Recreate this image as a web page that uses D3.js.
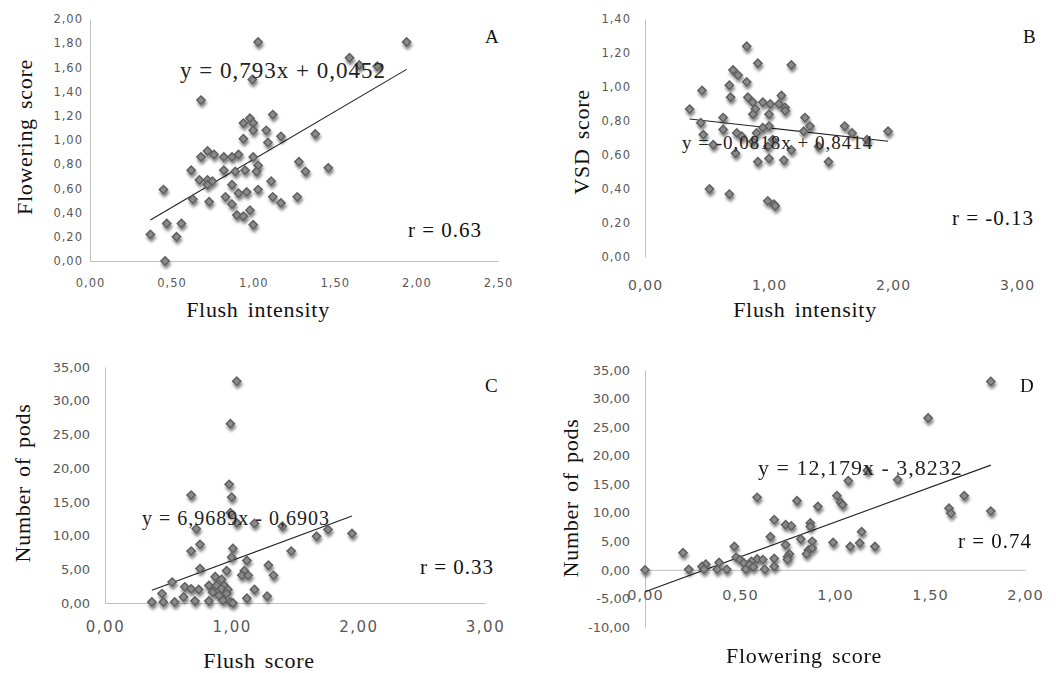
<!DOCTYPE html>
<html>
<head>
<meta charset="utf-8">
<script src="https://cdn.jsdelivr.net/npm/d3@7"></script>
<style>
  body { margin: 0; background: #fff; }
</style>
</head>
<body>
<div id="chart"></div>
<script>
// ---- data ----
// A: flush intensity vs flowering score
const pointsA = [
  [1.03,1.81],[1.94,1.81],[1.59,1.68],[1.65,1.62],[1.76,1.61],[0.995,1.50],[0.68,1.33],
  [1.12,1.21],[0.98,1.18],[0.94,1.14],[1.00,1.14],[1.08,1.08],[1.00,1.08],[1.17,1.03],
  [1.38,1.05],[0.94,1.01],[1.09,0.98],[0.72,0.91],[0.76,0.88],[0.68,0.86],[0.82,0.86],
  [0.87,0.86],[0.91,0.88],[1.00,0.86],[1.28,0.82],[1.03,0.79],[1.46,0.77],[0.62,0.75],
  [0.82,0.75],[0.89,0.74],[0.95,0.75],[1.02,0.74],[1.32,0.74],[0.67,0.67],[0.72,0.67],
  [0.75,0.66],[0.72,0.63],[1.11,0.66],[0.87,0.63],[0.45,0.59],[0.91,0.56],[0.96,0.57],
  [1.03,0.59],[0.63,0.51],[0.73,0.49],[0.83,0.53],[0.87,0.47],[1.12,0.53],[1.17,0.48],
  [1.27,0.53],[0.90,0.38],[0.94,0.37],[0.98,0.42],[1.00,0.30],[0.47,0.31],[0.56,0.31],
  [0.37,0.22],[0.53,0.20],[0.46,0.00]
];
// B: flush intensity vs VSD score
const pointsB = [
  [0.82,1.24],[0.91,1.14],[1.18,1.13],[0.71,1.10],[0.75,1.07],[0.82,1.03],[0.68,1.01],
  [0.46,0.98],[0.69,0.94],[0.83,0.94],[1.10,0.95],[0.87,0.91],[0.95,0.91],[1.01,0.90],
  [1.08,0.90],[1.13,0.88],[1.13,0.86],[0.36,0.87],[0.89,0.87],[0.87,0.84],[1.00,0.84],
  [0.63,0.82],[1.29,0.82],[0.45,0.79],[1.33,0.77],[1.61,0.77],[1.00,0.77],[0.95,0.76],
  [0.63,0.75],[1.67,0.73],[1.96,0.74],[1.28,0.74],[0.74,0.73],[0.90,0.73],[0.47,0.72],
  [0.78,0.71],[1.79,0.69],[0.55,0.66],[1.40,0.65],[0.99,0.65],[1.18,0.63],[0.73,0.61],
  [0.91,0.56],[1.00,0.58],[1.12,0.57],[1.48,0.56],[0.52,0.40],[0.68,0.37],[0.99,0.33],
  [1.04,0.31],[1.05,0.30],[0.87,0.68],[1.03,0.69]
];
// C: flush score vs number of pods
const pointsC = [
  [1.04,32.9],[0.99,26.6],[0.98,17.6],[0.68,16.0],[1.00,15.7],[0.99,13.4],[1.04,11.9],
  [1.18,11.8],[1.40,11.4],[0.72,11.0],[1.76,10.9],[1.95,10.3],[1.67,9.9],[0.75,8.7],
  [1.01,8.1],[0.68,7.7],[1.47,7.7],[1.00,6.8],[1.12,6.3],[1.29,5.6],[0.75,5.1],
  [0.96,4.8],[1.10,4.8],[1.08,4.1],[1.13,4.1],[1.33,4.1],[0.87,3.9],[0.92,3.5],
  [0.53,3.1],[0.82,2.6],[0.88,2.6],[0.94,2.6],[0.63,2.4],[0.68,2.1],[0.74,2.0],
  [1.18,2.0],[0.92,2.1],[0.97,2.0],[0.85,1.6],[0.96,1.4],[0.45,1.4],[0.62,0.9],
  [1.28,1.0],[1.12,0.7],[0.37,0.15],[0.46,0.15],[0.55,0.15],[0.71,0.3],[0.82,0.3],
  [0.93,0.4],[0.99,0.15],[1.01,0.0],[0.90,1.1]
];
// D: flowering score vs number of pods
const pointsD = [
  [1.82,33.0],[1.49,26.6],[1.17,17.4],[1.07,15.6],[1.33,15.8],[0.59,12.7],[0.80,12.1],
  [1.01,13.0],[1.03,11.8],[1.04,11.4],[0.91,11.1],[1.68,13.0],[1.60,10.8],[1.61,9.9],
  [1.82,10.3],[0.68,8.8],[0.74,7.9],[0.77,7.7],[0.87,8.2],[0.87,7.6],[1.14,6.7],
  [0.66,5.8],[0.82,5.4],[0.88,5.0],[0.99,4.8],[1.13,4.7],[1.08,4.1],[1.21,4.1],
  [0.74,4.4],[0.47,4.1],[0.20,3.0],[0.86,3.5],[0.88,3.8],[0.85,2.8],[0.76,2.8],
  [0.75,2.3],[0.68,2.0],[0.75,1.8],[0.48,2.2],[0.50,1.8],[0.59,1.9],[0.62,1.8],
  [0.39,1.3],[0.32,1.0],[0.30,0.6],[0.52,1.2],[0.56,1.5],[0.68,0.6],[0.23,0.1],
  [0.31,0.1],[0.38,0.1],[0.43,0.1],[0.53,0.1],[0.63,0.1],[0.00,0.0],[0.55,0.9],[0.57,0.5]
];

// regression lines as printed on the figure: [slope, intercept]
const fitA = [0.793, 0.0452];
const fitB = [-0.0818, 0.8414];
const fitC = [6.9689, -0.6903];
const fitD = [12.179, -3.8232];

const equations = ["y = 0,793x + 0,0452", "y = -0,0818x + 0,8414", "y = 6,9689x - 0,6903", "y = 12,179x - 3,8232"];
const rLabels = ["r = 0.63", "r = -0.13", "r = 0.33", "r = 0.74"];
const letters = ["A", "B", "C", "D"];
const xTitles = ["Flush intensity", "Flush intensity", "Flush score", "Flowering score"];
const yTitles = ["Flowering score", "VSD score", "Number of pods", "Number of pods"];

const xTicksA = [0, 0.5, 1, 1.5, 2, 2.5];
const yTicksA = [0, 0.2, 0.4, 0.6, 0.8, 1, 1.2, 1.4, 1.6, 1.8, 2];
const xTicksB = [0, 1, 2, 3];
const yTicksB = [0, 0.2, 0.4, 0.6, 0.8, 1, 1.2, 1.4];
const xTicksC = [0, 1, 2, 3];
const yTicksC = [0, 5, 10, 15, 20, 25, 30, 35];
const xTicksD = [0, 0.5, 1, 1.5, 2];
const yTicksD = [-10, -5, 0, 5, 10, 15, 20, 25, 30, 35];

// ---- drawing ----
const W = 1056, H = 673;
const svg = d3.select('#chart').append('svg')
  .attr('width', W)
  .attr('height', H)
  .style('font-family', '"Liberation Serif", "Times New Roman", serif');

const defs = svg.append('defs');
const shadow = defs.append('filter').attr('id', 'shadow')
  .attr('x', '-60%').attr('y', '-60%').attr('width', '220%').attr('height', '220%');
shadow.append('feGaussianBlur').attr('in', 'SourceAlpha').attr('stdDeviation', 1.8);
shadow.append('feOffset').attr('dx', 1).attr('dy', 2.5).attr('result', 'off');
shadow.append('feComponentTransfer').append('feFuncA').attr('type', 'linear').attr('slope', 0.5);
const merge = shadow.append('feMerge');
merge.append('feMergeNode');
merge.append('feMergeNode').attr('in', 'SourceGraphic');

const loc = d3.formatLocale({decimal: ',', thousands: '.', grouping: [3], currency: ['', ''], minus: '-'});
const fmt = loc.format('.2f');

function drawPanel(o) {
  const x = d3.scaleLinear().domain(o.xDomain).range(o.xRange);
  const y = d3.scaleLinear().domain(o.yDomain).range(o.yRange);
  const g = svg.append('g');

  // y axis
  const yAx = g.append('g')
    .attr('transform', 'translate(' + o.xRange[0] + ',0)')
    .call(d3.axisLeft(y).tickValues(o.yTicks).tickSize(0).tickSizeOuter(0).tickPadding(o.yPad).tickFormat(fmt));
  yAx.select('.domain').attr('stroke', '#bfbfbf');
  yAx.selectAll('text')
    .attr('fill', '#595959')
    .style('font-family', '"DejaVu Sans", sans-serif')
    .style('font-size', o.yFont + 'px')
    .attr('letter-spacing', o.yLs);

  // x axis
  const xAx = g.append('g')
    .attr('transform', 'translate(0,' + y(o.xAt) + ')')
    .call(d3.axisBottom(x).tickValues(o.xTicks).tickSize(0).tickSizeOuter(0).tickPadding(o.xPad).tickFormat(fmt));
  xAx.select('.domain').attr('stroke', o.xLine ? '#bfbfbf' : 'none');
  xAx.selectAll('text')
    .attr('fill', '#595959')
    .style('font-family', '"DejaVu Sans", sans-serif')
    .style('font-size', o.xFont + 'px')
    .attr('letter-spacing', o.xLs);

  // trend line
  const ext = d3.extent(o.points, d => d[0]);
  g.append('line')
    .attr('x1', x(ext[0])).attr('y1', y(o.fit[0] * ext[0] + o.fit[1]))
    .attr('x2', x(ext[1])).attr('y2', y(o.fit[0] * ext[1] + o.fit[1]))
    .attr('stroke', '#222')
    .attr('stroke-width', 1.1);

  // markers
  g.append('g')
    .attr('filter', 'url(#shadow)')
    .selectAll('path')
    .data(o.points)
    .enter()
    .append('path')
    .attr('d', d3.symbol(d3.symbolSquare, 34))
    .attr('transform', d => 'translate(' + x(d[0]) + ',' + y(d[1]) + ') rotate(45)')
    .attr('fill', '#8a8a8a')
    .attr('stroke', '#606060')
    .attr('stroke-width', 1.5);

  // equation
  g.append('text')
    .attr('x', o.eq[0]).attr('y', o.eq[1])
    .attr('font-size', o.eq[2])
    .attr('letter-spacing', 1)
    .attr('fill', '#222')
    .text(o.eqText);

  // r value
  g.append('text')
    .attr('x', o.r[0]).attr('y', o.r[1])
    .attr('font-size', 21)
    .attr('letter-spacing', 1)
    .attr('fill', '#111')
    .text(o.rText);

  // panel letter
  g.append('text')
    .attr('x', o.letter[0]).attr('y', o.letter[1])
    .attr('font-size', 19)
    .attr('fill', '#111')
    .text(o.letterText);

  // axis titles
  g.append('text')
    .attr('x', o.xTitle[0]).attr('y', o.xTitle[1])
    .attr('text-anchor', 'middle')
    .attr('font-size', 22)
    .attr('letter-spacing', 0.7)
    .attr('word-spacing', 3)
    .attr('fill', '#111')
    .text(o.xTitleText);

  g.append('text')
    .attr('transform', 'translate(' + o.yTitle[0] + ',' + o.yTitle[1] + ') rotate(-90)')
    .attr('text-anchor', 'middle')
    .attr('font-size', 22)
    .attr('letter-spacing', 0.7)
    .attr('word-spacing', 3)
    .attr('fill', '#111')
    .text(o.yTitleText);
}

drawPanel({
  points: pointsA, fit: fitA,
  xDomain: [0, 2.5], xRange: [90, 498], yDomain: [0, 2], yRange: [261, 19],
  xTicks: xTicksA, yTicks: yTicksA, xAt: 0, xLine: true,
  xPad: 18, xFont: 11.5, xLs: 1, yPad: 7, yFont: 11.5, yLs: 1,
  eq: [180, 78, 23], eqText: equations[0],
  r: [408, 237], rText: rLabels[0],
  letter: [485, 43], letterText: letters[0],
  xTitle: [258, 317], xTitleText: xTitles[0],
  yTitle: [32, 137], yTitleText: yTitles[0]
});

drawPanel({
  points: pointsB, fit: fitB,
  xDomain: [0, 3], xRange: [645, 1017], yDomain: [0, 1.4], yRange: [257, 19],
  xTicks: xTicksB, yTicks: yTicksB, xAt: 0, xLine: false,
  xPad: 23, xFont: 14, xLs: 1, yPad: 14, yFont: 11.5, yLs: 1,
  eq: [682, 149, 19], eqText: equations[1],
  r: [952, 225], rText: rLabels[1],
  letter: [1023, 43], letterText: letters[1],
  xTitle: [805, 317], xTitleText: xTitles[1],
  yTitle: [589, 142], yTitleText: yTitles[1]
});

drawPanel({
  points: pointsC, fit: fitC,
  xDomain: [0, 3], xRange: [105, 485], yDomain: [0, 35], yRange: [603, 367],
  xTicks: xTicksC, yTicks: yTicksC, xAt: 0, xLine: true,
  xPad: 18, xFont: 15, xLs: 1.5, yPad: 15, yFont: 13, yLs: 0,
  eq: [142, 525, 20], eqText: equations[2],
  r: [420, 574], rText: rLabels[2],
  letter: [485, 392], letterText: letters[2],
  xTitle: [259, 668], xTitleText: xTitles[2],
  yTitle: [30, 483], yTitleText: yTitles[2]
});

drawPanel({
  points: pointsD, fit: fitD,
  xDomain: [0, 2], xRange: [645, 1025], yDomain: [-10, 35], yRange: [627, 370],
  xTicks: xTicksD, yTicks: yTicksD, xAt: 0, xLine: true,
  xPad: 20, xFont: 14.5, xLs: 1, yPad: 15, yFont: 13, yLs: 0,
  eq: [758, 475, 22], eqText: equations[3],
  r: [958, 548], rText: rLabels[3],
  letter: [1020, 392], letterText: letters[3],
  xTitle: [804, 663], xTitleText: xTitles[3],
  yTitle: [578, 498], yTitleText: yTitles[3]
});
</script>
</body>
</html>
